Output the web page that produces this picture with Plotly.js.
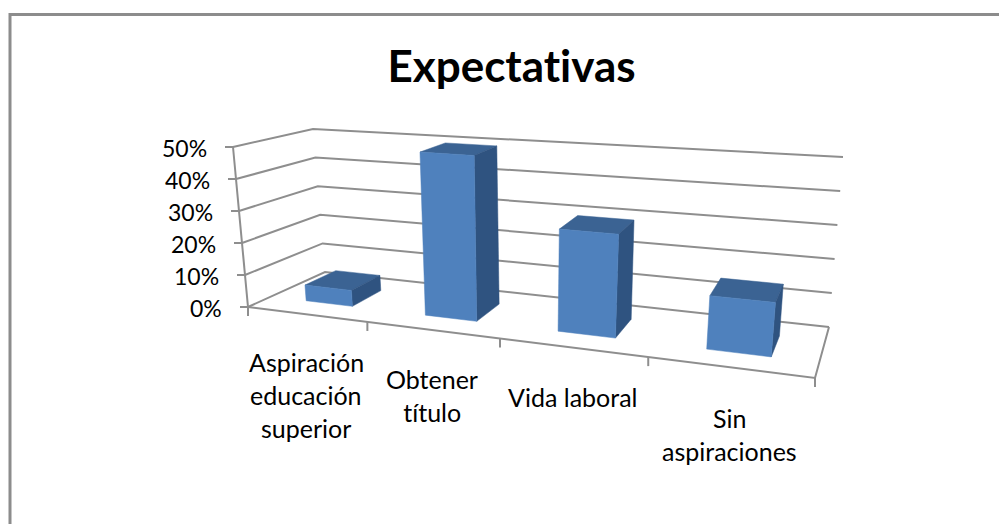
<!DOCTYPE html>
<html>
<head>
<meta charset="utf-8">
<script src="https://cdn.plot.ly/plotly-3.0.1.min.js"></script>
<style>html,body{margin:0;padding:0;background:#fff}#c{width:999px;height:524px}
#c text{font-variant-ligatures:none !important;font-feature-settings:"liga" 0,"clig" 0 !important}</style>
</head>
<body>
<div id="c"></div>
<script>
const chartTitle = "Expectativas";
const categories = [["Aspiración","educación","superior"],["Obtener","título"],["Vida laboral"],["Sin","aspiraciones"]];
const values = [5, 50, 30, 15];
const valueTicks = [0, 10, 20, 30, 40, 50];
const tickLabels = ["0%", "10%", "20%", "30%", "40%", "50%"];

const FONT = "Lato, sans-serif";
const GRID = "#8e8e8e";
const FACE = {front: "#4f81bd", top: "#3b6393", side: "#2f5380"};

// Pseudo-3D box: pixel position of the 8 corners (front/back, left/right, bottom/top)
const box = {
  flb:[248,307], frb:[815,378], blb:[325,272], brb:[829,327],
  flt:[233,147], frt:[833,188], blt:[313,129], brt:[843,157]
};
const vMax = 50, nCat = categories.length, persp = 1.25;
const mix = (a,b,t)=>[a[0]+(b[0]-a[0])*t, a[1]+(b[1]-a[1])*t];
// u: category position, v: value, w: depth 0..1
function project(u,v,w){
  const n = u/nCat, t = n/(n+persp*(1-n)), h = v/vMax;
  const bottom = mix(mix(box.flb,box.frb,t), mix(box.blb,box.brb,t), w);
  const top = mix(mix(box.flt,box.frt,t), mix(box.blt,box.brt,t), w);
  return mix(bottom,top,h);
}
const traces = [];
function line(pts,color,width){
  traces.push({x:pts.map(p=>p[0]),y:pts.map(p=>p[1]),mode:"lines",type:"scatter",
    line:{color:color,width:width},hoverinfo:"skip",showlegend:false});
}
function poly(pts,color){
  const c = pts.concat([pts[0]]);
  traces.push({x:c.map(p=>p[0]),y:c.map(p=>p[1]),mode:"lines",type:"scatter",fill:"toself",
    fillcolor:color,line:{color:color,width:0.5},hoverinfo:"skip",showlegend:false});
}
// Walls and floor
valueTicks.forEach(v=>{
  const a=project(0,v,0), b=project(0,v,1), c=project(nCat,v,1);
  line([a,b,c],GRID,2);
  line([[a[0]-8,a[1]],a],GRID,2);
});
line([project(0,0,0),project(0,vMax,0)],GRID,2);
line([project(0,0,0),project(nCat,0,0),project(nCat,0,1)],GRID,2);
for(let i=0;i<=nCat;i++){
  const p=project(i,0,0);
  line([p,[p[0],p[1]+9]],GRID,2);
}
// Bars
const u0=0.315,u1=0.715,w0=0.3,w1=0.72;
values.forEach((val,i)=>{
  const P=(u,v,w)=>project(i+u,v,w);
  poly([P(u0,val,w0),P(u1,val,w0),P(u1,val,w1),P(u0,val,w1)],FACE.top);
  poly([P(u1,0,w0),P(u1,val,w0),P(u1,val,w1),P(u1,0,w1)],FACE.side);
  poly([P(u0,0,w0),P(u1,0,w0),P(u1,val,w0),P(u0,val,w0)],FACE.front);
});

const annotations = [];
function label(text,x,y,size,anchor,bold){
  annotations.push({text:bold?"<b>"+text+"</b>":text,x:x,y:y,xref:"x",yref:"y",showarrow:false,
    xanchor:anchor,yanchor:"middle",font:{family:FONT,size:size,color:"#000"}});
}
label(chartTitle,511,64.5,44,"center",true);
valueTicks.forEach((v,i)=>{
  const p=project(0,v,0);
  label(tickLabels[i],p[0]-24.5,p[1]+0.5,23,"right",false);
});
categories.forEach((lines,i)=>{
  const p=project(i+0.5,0,0), frac=(i+0.5)/nCat;
  lines.forEach((txt,j)=>{
    label(txt,p[0],p[1]+47+frac*4+j*33,25,"center",false);
  });
});

Plotly.newPlot("c",traces,{
  width:999,height:524,margin:{l:0,r:0,t:0,b:0},
  paper_bgcolor:"#fff",plot_bgcolor:"#fff",showlegend:false,
  xaxis:{range:[0,999],visible:false,fixedrange:true},
  yaxis:{range:[524,0],visible:false,fixedrange:true},
  annotations:annotations,
  shapes:[{type:"path",path:"M 10 524 L 10 14.5 L 999 14.5",xref:"x",yref:"y",
    line:{color:"#8c8c8c",width:3}}]
},{displayModeBar:false,staticPlot:true});
</script>
</body>
</html>
